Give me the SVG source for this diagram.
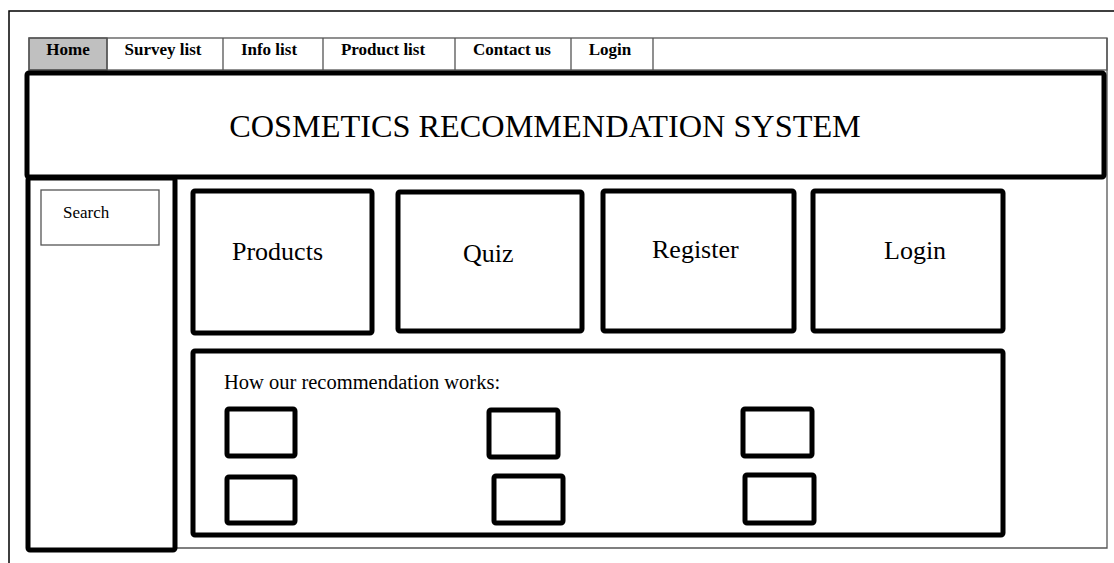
<svg xmlns="http://www.w3.org/2000/svg" width="1114" height="563" viewBox="0 0 1114 563">
<style>
.thin{fill:none;stroke:#555;stroke-width:1.3}
.thick{fill:#fff;stroke:#000;stroke-width:5;stroke-linejoin:round}
.tab{font-family:"Liberation Serif",serif;font-weight:bold;font-size:17px;fill:#000}
.t{font-family:"Liberation Serif",serif;fill:#000}
</style>
<rect width="1114" height="563" fill="#fff"/>
<g id="frame">
<path d="M9,563 V11 H1114" fill="none" stroke="#000" stroke-width="1.5"/>
<path d="M177,548 H1107 V38" class="thin"/>
</g>
<g id="navbar">
<rect x="29" y="38" width="78" height="32" fill="#c0c0c0" stroke="#555" stroke-width="1.3"/>
<rect x="29" y="38" width="1078" height="32" class="thin"/>
<path d="M107,38V70M223,38V70M323,38V70M455,38V70M571,38V70M653,38V70" class="thin"/>
<text class="tab" x="68" y="55" text-anchor="middle">Home</text>
<text class="tab" x="163" y="55" text-anchor="middle">Survey list</text>
<text class="tab" x="269" y="55" text-anchor="middle">Info list</text>
<text class="tab" x="383" y="55" text-anchor="middle">Product list</text>
<text class="tab" x="512" y="55" text-anchor="middle">Contact us</text>
<text class="tab" x="610" y="55" text-anchor="middle">Login</text>
</g>
<g id="header">
<rect x="27" y="73" width="1077" height="104" rx="2" class="thick"/>
<text class="t" x="545" y="137" font-size="32.3" text-anchor="middle">COSMETICS RECOMMENDATION SYSTEM</text>
</g>
<g id="sidebar">
<rect x="28" y="178" width="147" height="372" rx="2" class="thick"/>
<rect x="41" y="190" width="118" height="55" class="thin"/>
<text class="t" x="63" y="218" font-size="17">Search</text>
</g>
<g id="products">
<rect x="193" y="191" width="179" height="142" rx="2" class="thick"/>
<text class="t" x="232" y="260" font-size="26">Products</text>
</g>
<g id="quiz">
<rect x="398" y="192" width="184" height="139" rx="2" class="thick"/>
<text class="t" x="463" y="262" font-size="26">Quiz</text>
</g>
<g id="register">
<rect x="603" y="191" width="191" height="140" rx="2" class="thick"/>
<text class="t" x="652" y="258" font-size="26">Register</text>
</g>
<g id="login">
<rect x="813" y="191" width="190" height="140" rx="2" class="thick"/>
<text class="t" x="884" y="259" font-size="26">Login</text>
</g>
<g id="how">
<rect x="193" y="351" width="810" height="184" rx="2" class="thick"/>
<text class="t" x="224" y="389" font-size="20.5">How our recommendation works:</text>
</g>
<g id="steps">
<rect x="227" y="409" width="68" height="47" rx="2" class="thick"/>
<rect x="227" y="477" width="68" height="46" rx="2" class="thick"/>
<rect x="489" y="410" width="69" height="47" rx="2" class="thick"/>
<rect x="494" y="476" width="69" height="47" rx="2" class="thick"/>
<rect x="743" y="409" width="69" height="47" rx="2" class="thick"/>
<rect x="745" y="475" width="69" height="48" rx="2" class="thick"/>
</g>
</svg>
